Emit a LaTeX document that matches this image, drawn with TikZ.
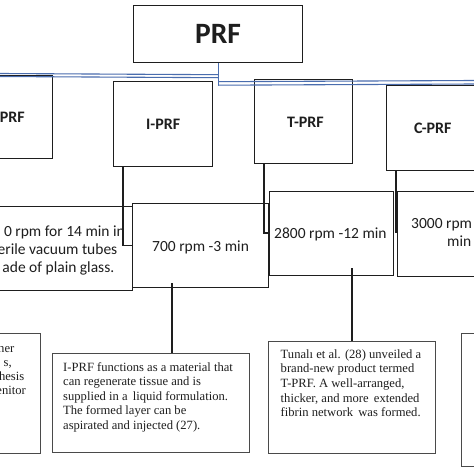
\documentclass[tikz,border=0pt]{standalone}
\usepackage{fontspec}
\setmainfont{Liberation Serif}
\newfontfamily\carl{Carlito}
\definecolor{ink}{HTML}{1E1E1E}
\definecolor{linkblue}{HTML}{4A6DAE}
\definecolor{greyline}{HTML}{4A4A4A}
\begin{document}
\begin{tikzpicture}[x=1pt,y=-1pt,
  box/.style={draw=ink, line width=1.2pt, rectangle, inner sep=0pt, anchor=north west},
  descbox/.style={draw=greyline, line width=1.1pt, rectangle, inner sep=0pt, anchor=north west},
  conn/.style={draw=ink, line width=1.2pt},
  blue/.style={draw=linkblue, line width=1.1pt},
  lab/.style={font=\carl\bfseries\fontsize{16}{18}\selectfont, text=ink, inner sep=0pt},
  spd/.style={font=\carl\fontsize{15.5}{18}\selectfont, text=ink, inner sep=0pt},
  dsc/.style={font=\fontsize{12.6}{14.5}\selectfont, text=ink, inner sep=0pt, anchor=base west},
  dscr/.style={font=\fontsize{12.6}{14.5}\selectfont, text=ink, inner sep=0pt, anchor=base east}]
\useasboundingbox (0,0) rectangle (474,474);
\fill[white] (0,0) rectangle (474,474);
\clip (0,0) rectangle (474,474);

% top box
\node[box, minimum width=169pt, minimum height=57pt] (prf) at (133,5) {};
\node[font=\carl\bfseries\fontsize{29.5}{32}\selectfont, text=ink, inner sep=0pt, anchor=base] (prft) at (218,43.5) {PRF};

% type boxes
\node[box, minimum width=62pt, minimum height=83pt] (lprf) at (-10,75) {};
\node[box, minimum width=99pt, minimum height=85pt] (iprf) at (113,81) {};
\node[box, minimum width=98pt, minimum height=84pt] (tprf) at (254,79) {};
\node[box, minimum width=100pt, minimum height=85pt] (cprf) at (386,85) {};
\node[lab, anchor=base east] (lprft) at (25,122) {PRF};
\node[lab, anchor=base west] (iprft) at (146,129.5) {I-PRF};
\node[lab, anchor=base west] (tprft) at (287,127) {T-PRF};
\node[lab, anchor=base west] (cprft) at (414,133) {C-PRF};

% blue links
\coordinate (bl) at (0,73.5);
\coordinate (bl2) at (0,76.5);
\coordinate (br) at (474,80.5);
\coordinate (br2) at (474,84);
\draw[blue] (prf.south) -- ++(0,22);
\draw[blue] (prf.south) ++(0,11.5) -- (bl);
\draw[blue] (prf.south) ++(0,14.5) -- (bl2);
\draw[blue] (prf.south) ++(0,18.5) -- (br);
\draw[blue] (prf.south) ++(0,22) -- (br2);

% speed boxes
\node[box, minimum width=142pt, minimum height=84pt] (lspd) at (-10,206) {};
\node[box, minimum width=136pt, minimum height=84pt] (ispd) at (132,203) {};
\node[box, minimum width=124pt, minimum height=84pt] (tspd) at (269,191) {};
\node[box, minimum width=90pt, minimum height=85pt] (cspd) at (397,191) {};

\node[spd, anchor=base east] (l1) at (125,236.5) {0 rpm for 14 min in};
\node[spd, anchor=base east] (l2) at (117.5,254) {erile vacuum tubes};
\node[spd, anchor=base east] (l3) at (114.5,272) {ade of plain glass.};
\node[spd, anchor=base west] (it) at (152,251) {700 rpm -3 min};
\node[spd, anchor=base west] (tt) at (274,238) {2800 rpm -12 min};
\node[spd, anchor=base west] (ct1) at (411,228) {3000 rpm};
\node[spd, anchor=base west] (ct2) at (447,246) {min};

% connectors type -> speed
\draw[conn] (iprf.south west) ++(10,0) |- (ispd.west);
\draw[conn] (tprf.south west) ++(10,0) |- (tspd.west |- 0,233);
\draw[conn] (cprf.south west) ++(10,0) -- ++(0,62);

% description boxes
\node[descbox, minimum width=50pt, minimum height=120pt] (ldsc) at (-10,333) {};
\node[descbox, minimum width=197pt, minimum height=99pt] (idsc) at (52,353) {};
\node[descbox, minimum width=167pt, minimum height=112pt] (tdsc) at (268,341) {};
\node[descbox, minimum width=30pt, minimum height=133pt] (cdsc) at (461,333) {};

\draw[conn] (ispd.south west) ++(40,-5) -- (idsc.north -| 172,0);
\draw[conn] (tspd.south west) ++(83,-8) -- (tdsc.north -| 352,0);

\node[dscr] (ld1) at (14.5,352) {her};
\node[dscr] (ld2) at (12,366) {s,};
\node[dscr] (ld3) at (24.5,380) {hesis};
\node[dscr] (ld4) at (26,394.5) {enitor};

\node[dsc] (id1) at (63,371) {I-PRF functions as a material that};
\node[dsc] (id2) at (63,385.5) {can regenerate tissue and is};
\node[dsc] (id3) at (63,400) {supplied in a\, liquid formulation.};
\node[dsc] (id4) at (63,414.5) {The formed layer can be};
\node[dsc] (id5) at (63,429) {aspirated and injected (27).};

\node[dsc] (td1) at (280.5,358) {Tunalı et al. (28) unveiled a};
\node[dsc] (td2) at (280.5,372.7) {brand-new product termed};
\node[dsc] (td3) at (280.5,387.4) {T-PRF. A well-arranged,};
\node[dsc] (td4) at (280.5,402.1) {thicker, and more\, extended};
\node[dsc] (td5) at (280.5,416.8) {fibrin network\, was formed.};
\end{tikzpicture}
\end{document}
